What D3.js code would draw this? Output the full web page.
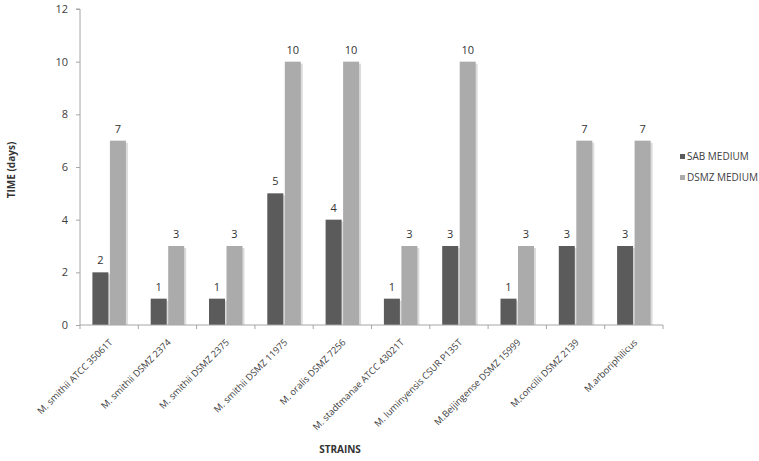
<!DOCTYPE html>
<html><head><meta charset="utf-8">
<script src="https://cdn.jsdelivr.net/npm/d3@7"></script>
<style>body{margin:0;background:#fff}text{font-family:"Open Sans","Liberation Sans",sans-serif}</style>
</head><body><svg id="c" width="759" height="461"></svg>
<script>
const categories = ["M. smithii ATCC 35061T","M. smithii DSMZ 2374","M. smithii DSMZ 2375","M. smithii DSMZ 11975","M. oralis DSMZ 7256","M. stadtmanae ATCC 43021T","M. luminyensis  CSUR P135T","M.Beijingense DSMZ 15999","M.concilii DSMZ 2139","M.arboriphilicus"];
const seriesNames = ["SAB MEDIUM","DSMZ MEDIUM"];
const sab = [2,1,1,5,4,1,3,1,3,3];
const dsmz = [7,3,3,10,10,3,10,3,7,7];
const yTicks = [0,2,4,6,8,10,12];
const colors = ["#5b5b5b","#ababab"];

const svg = d3.select("#c");
const x0 = 80, x1 = 663, yTop = 9, yBot = 325;
const x = d3.scaleBand().domain(categories).range([x0,x1]).paddingInner(0).paddingOuter(0);
const y = d3.scaleLinear().domain([0,12]).range([yBot,yTop]);
const bw = 16, gap = 1.5;
const series = [sab, dsmz];

series.forEach((vals, si) => {
  const g = svg.append("g");
  const bx = (c) => x(c) + x.bandwidth()/2 - bw - gap/2 + si*(bw+gap);
  g.selectAll("rect.s").data(categories).enter().append("rect")
    .attr("x", c => bx(c)+2).attr("width", bw)
    .attr("y", (c,i)=>y(vals[i])+2).attr("height",(c,i)=>yBot-y(vals[i])-2)
    .attr("fill","#dcdcdc");
  g.selectAll("rect.b").data(categories).enter().append("rect")
    .attr("x", c => bx(c)).attr("width", bw)
    .attr("y", (c,i)=>y(vals[i])).attr("height",(c,i)=>yBot-y(vals[i]))
    .attr("fill", colors[si]);
  g.selectAll("text").data(categories).enter().append("text")
    .attr("x", c => bx(c)+bw/2).attr("y",(c,i)=>y(vals[i])-8)
    .attr("text-anchor","middle").attr("font-size",11).attr("fill","#333")
    .text((c,i)=>vals[i]);
});

const ya = svg.append("g").attr("transform",`translate(${x0},0)`)
  .call(d3.axisLeft(y).tickValues(yTicks).tickSize(4).tickPadding(8));
ya.select(".domain").attr("stroke","#a6a6a6").attr("d",`M-4,${yTop}H0V${yBot}`);
ya.selectAll(".tick line").attr("stroke","#a6a6a6");
ya.selectAll(".tick text").attr("font-size",11).attr("fill","#404040").attr("font-family","'Open Sans','Liberation Sans',sans-serif");

const xa = svg.append("g").attr("transform",`translate(0,${yBot})`);
xa.append("line").attr("x1",x0).attr("x2",x1).attr("y1",0).attr("y2",0).attr("stroke","#a6a6a6");
xa.selectAll("line.t").data(categories.concat(["end"])).enter().append("line")
  .attr("x1",(c,i)=>x0+i*x.bandwidth()).attr("x2",(c,i)=>x0+i*x.bandwidth())
  .attr("y1",0).attr("y2",4).attr("stroke","#a6a6a6");
xa.selectAll("text").data(categories).enter().append("text")
  .attr("transform", c => `translate(${x(c)+x.bandwidth()/2+4},18) rotate(-45)`)
  .attr("text-anchor","end").attr("font-size",9.3).attr("fill","#404040")
  .text(c=>c);

svg.append("text").attr("transform","translate(15,170) rotate(-90)").attr("text-anchor","middle")
  .attr("font-size",10).attr("font-weight","bold").attr("fill","#333").text("TIME (days)");
svg.append("text").attr("x",340).attr("y",453).attr("text-anchor","middle")
  .attr("font-size",10).attr("font-weight","bold").attr("fill","#333").text("STRAINS");

const lg = svg.append("g").attr("transform","translate(680,154)");
seriesNames.forEach((n,i)=>{
  lg.append("rect").attr("x",0).attr("y",i*21).attr("width",5).attr("height",5).attr("fill",colors[i]);
  lg.append("text").attr("x",7).attr("y",i*21+6).attr("font-size",10).attr("fill","#404040").text(n);
});
</script></body></html>
